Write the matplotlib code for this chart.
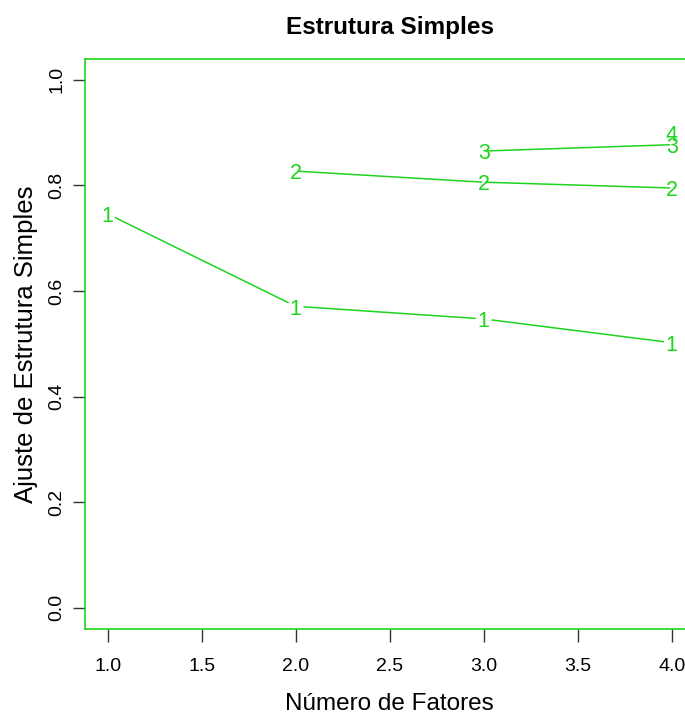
import matplotlib
matplotlib.use('Agg')
import matplotlib.pyplot as plt

# numero de fatores x ajuste (VSS), uma serie por complexidade
complexidade = ['1', '2', '3', '4']
fatores = [[1, 2, 3, 4], [2, 3, 4], [3, 4], [4]]
ajuste = [[0.746, 0.571, 0.547, 0.502],
          [0.827, 0.806, 0.795],
          [0.865, 0.877],
          [0.899]]
gap = [6, 1.5, 1.5, 1.5]

verde = '#1ed41e'
plt.rcParams['font.family'] = ['Liberation Sans', 'DejaVu Sans']

fig = plt.figure(figsize=(6.85, 7.17), dpi=100)
ax = fig.add_axes([0.1242, 0.1229, 0.8894, 0.7953])
ax.set_xlim(0.88, 4.12)
ax.set_ylim(-0.04, 1.04)

for lab, xs, ys, g in zip(complexidade, fatores, ajuste, gap):
    for i in range(len(xs) - 1):
        ax.annotate('', xy=(xs[i + 1], ys[i + 1]), xytext=(xs[i], ys[i]),
                    arrowprops=dict(arrowstyle='-', color=verde, lw=1.1,
                                    shrinkA=g, shrinkB=g))
    for x, y in zip(xs, ys):
        ax.annotate(lab, (x, y), xytext=(0, -2), textcoords='offset points',
                    ha='center', va='center', color=verde, fontsize=15.5)

for s in ax.spines.values():
    s.set_color(verde)
    s.set_linewidth(1.2)

ax.set_xticks([1.0, 1.5, 2.0, 2.5, 3.0, 3.5, 4.0])
ax.set_xticklabels(['1.0', '1.5', '2.0', '2.5', '3.0', '3.5', '4.0'])
ax.set_yticks([0.0, 0.2, 0.4, 0.6, 0.8, 1.0])
ax.set_yticklabels(['0.0', '0.2', '0.4', '0.6', '0.8', '1.0'], rotation=90, va='center')
ax.tick_params(axis='both', length=9, width=1, color='#333333', labelsize=14)
ax.tick_params(axis='x', pad=12)
ax.tick_params(axis='y', pad=5)

ax.set_xlabel('Número de Fatores', fontsize=17.5, labelpad=13)
ax.set_ylabel('Ajuste de Estrutura Simples', fontsize=18.5, labelpad=8)
ax.set_title('Estrutura Simples', fontsize=17.5, fontweight='bold', pad=18)

fig.savefig('out.png', dpi=100)
